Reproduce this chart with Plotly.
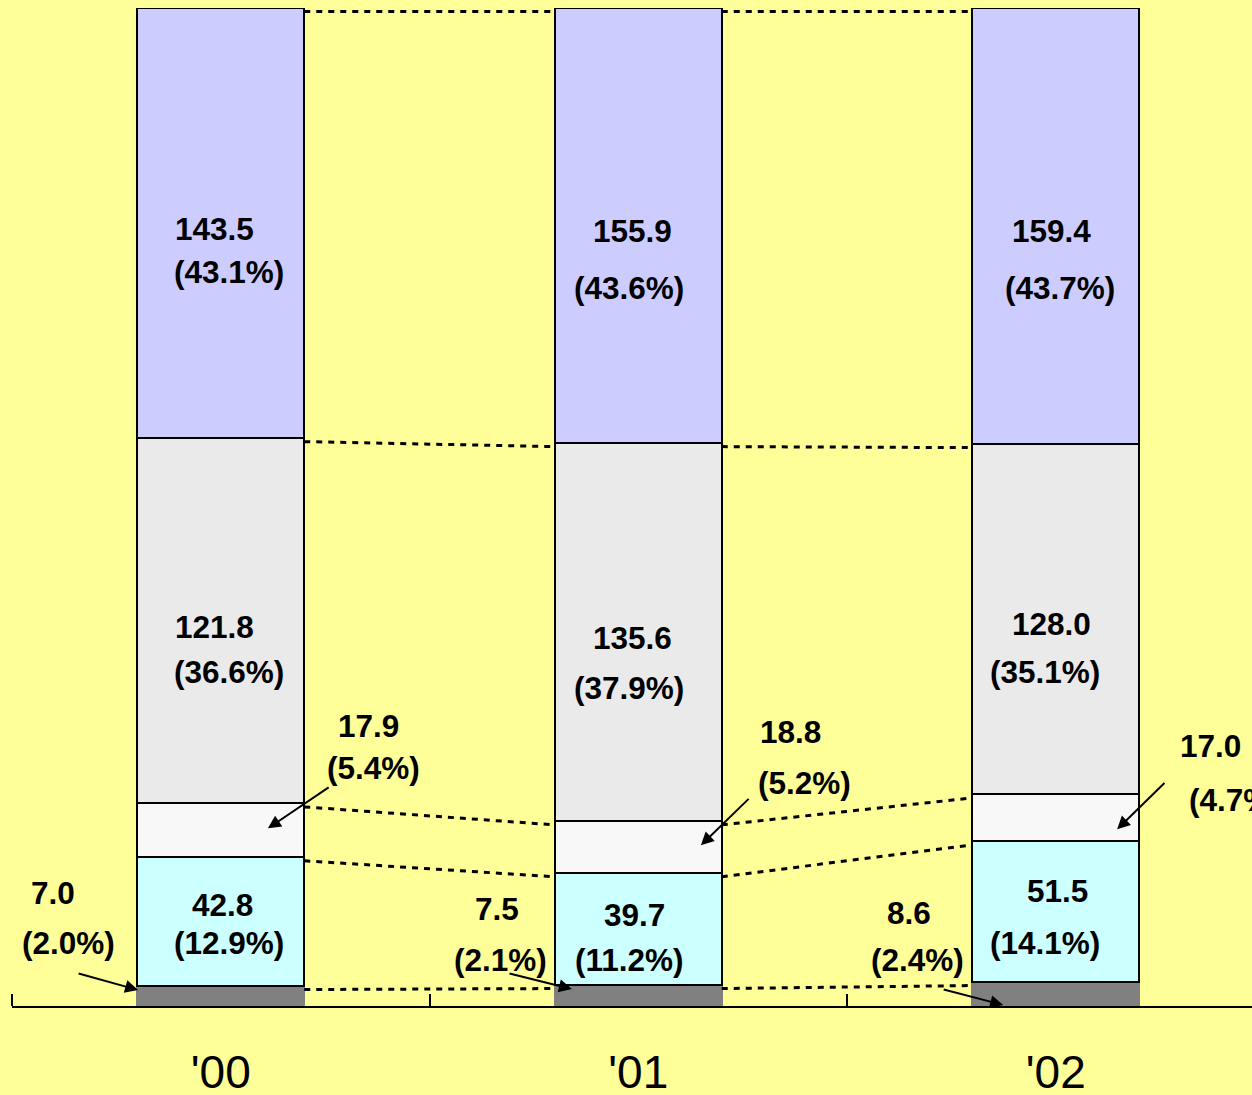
import plotly.graph_objects as go

# ---------------- data ----------------
years = ["'00", "'01", "'02"]

dark_val = [7.0, 7.5, 8.6]
dark_pct = [2.0, 2.1, 2.4]
cyan_val = [42.8, 39.7, 51.5]
cyan_pct = [12.9, 11.2, 14.1]
white_val = [17.9, 18.8, 17.0]
white_pct = [5.4, 5.2, 4.7]
gray_val = [121.8, 135.6, 128.0]
gray_pct = [36.6, 37.9, 35.1]
lav_val = [143.5, 155.9, 159.4]
lav_pct = [43.1, 43.6, 43.7]

series = [
    ("dark", dark_val, dark_pct, "#808080", "#808080"),
    ("cyan", cyan_val, cyan_pct, "#CCFFFF", "#000000"),
    ("white", white_val, white_pct, "#F8F8F8", "#000000"),
    ("gray", gray_val, gray_pct, "#EAEAEA", "#000000"),
    ("lav", lav_val, lav_pct, "#CCCCFF", "#000000"),
]

# ---------------- label placement (axis units) ----------------
# per series: list over years of ((x_value, y_value), (x_pct, y_pct)) offsets from bar index
label_pos = {
    "lav":   [((-0.014, 77.9), (0.020, 73.5)), ((-0.013, 77.7), (-0.022, 71.9)), ((-0.011, 77.7), (0.010, 71.9))],
    "gray":  [((-0.014, 38.0), (0.020, 33.5)), ((-0.013, 36.9), (-0.022, 31.9)), ((-0.011, 38.3), (-0.026, 33.5))],
    "white": [((0.353, 28.1), (0.365, 23.8)), ((0.364, 27.5), (0.399, 22.3)), ((0.370, 26.1), (0.430, 20.6))],
    "cyan":  [((0.003, 10.1), (0.020, 6.3)), ((-0.010, 9.1), (-0.022, 4.6)), ((0.005, 11.5), (-0.026, 6.3))],
    "dark":  [((-0.402, 11.3), (-0.364, 6.3)), ((-0.338, 9.7), (-0.329, 4.6)), ((-0.352, 9.3), (-0.332, 4.6))],
}
# arrows: (tail dx, tail y, head dx, head y) relative to bar index
arrow_pos = {
    "white": [(0.262, 22.0, 0.113, 17.8), (0.268, 20.9, 0.150, 16.1), (0.264, 22.5, 0.147, 17.7)],
    "dark":  [(-0.344, 3.3, -0.198, 1.6), (-0.312, 3.3, -0.159, 1.7), (-0.272, 1.7, -0.126, 0.1)],
}

FONT = "Liberation Sans, Arial, sans-serif"
BAR_W = 0.4
LABEL_SIZE = 31.5

fig = go.Figure()

for name, vals, pcts, color, lcolor in series:
    fig.add_trace(go.Bar(
        x=list(range(len(years))), y=pcts, width=BAR_W,
        marker=dict(color=color, line=dict(color=lcolor, width=2)),
        showlegend=False, hoverinfo="skip",
    ))

# dotted connectors between bars at segment boundaries
cum = [0.0] * len(years)
bounds = []
for name, vals, pcts, color, lcolor in series:
    cum = [c + p for c, p in zip(cum, pcts)]
    bounds.append(list(cum))
for b in bounds:
    for i in range(len(years) - 1):
        fig.add_trace(go.Scatter(
            x=[i + BAR_W / 2, i + 1 - BAR_W / 2], y=[b[i] - 0.35, b[i + 1] - 0.35],
            mode="lines", line=dict(color="black", width=3, dash="6px,6px"),
            showlegend=False, hoverinfo="skip",
        ))

annotations = []
for name, vals, pcts, color, lcolor in series:
    for i in range(len(years)):
        (xv, yv), (xp, yp) = label_pos[name][i]
        annotations.append(dict(x=i + xv, y=yv, xref="x", yref="y", text=f"<b>{vals[i]:.1f}</b>",
                                showarrow=False, font=dict(family=FONT, size=LABEL_SIZE, color="black")))
        annotations.append(dict(x=i + xp, y=yp, xref="x", yref="y", text=f"<b>({pcts[i]:.1f}%)</b>",
                                showarrow=False, font=dict(family=FONT, size=LABEL_SIZE, color="black")))
for name, arr in arrow_pos.items():
    for i, (tx, ty, hx, hy) in enumerate(arr):
        annotations.append(dict(x=i + hx, y=hy, ax=i + tx, ay=ty, xref="x", yref="y",
                                axref="x", ayref="y", text="", showarrow=True,
                                arrowhead=2, arrowsize=1.3, arrowwidth=2, arrowcolor="black"))

fig.update_layout(
    width=1252, height=1095,
    barmode="stack",
    paper_bgcolor="#FFFF99", plot_bgcolor="#FFFF99",
    margin=dict(l=12, r=0, t=8, b=89, autoexpand=False),
    annotations=annotations,
    xaxis=dict(
        range=[-0.5, 2.47], tickvals=list(range(len(years))), ticktext=years,
        ticks="", showgrid=False, zeroline=False, showline=True, linecolor="black", linewidth=2,
        tickfont=dict(family=FONT, size=46, color="black"), ticklabelstandoff=25,
        automargin=False,
        minor=dict(tickvals=[-0.5, 0.5, 1.5, 2.5], ticks="inside", ticklen=12, tickwidth=2,
                   tickcolor="black", showgrid=False),
        fixedrange=True,
    ),
    yaxis=dict(range=[0, 100], visible=False, fixedrange=True, automargin=False),
)

fig.write_html(
    "out.html",
    config={"displayModeBar": False},
    post_script="document.body.style.margin='0';document.body.style.background='#FFFF99';document.body.style.overflow='hidden';",
)
